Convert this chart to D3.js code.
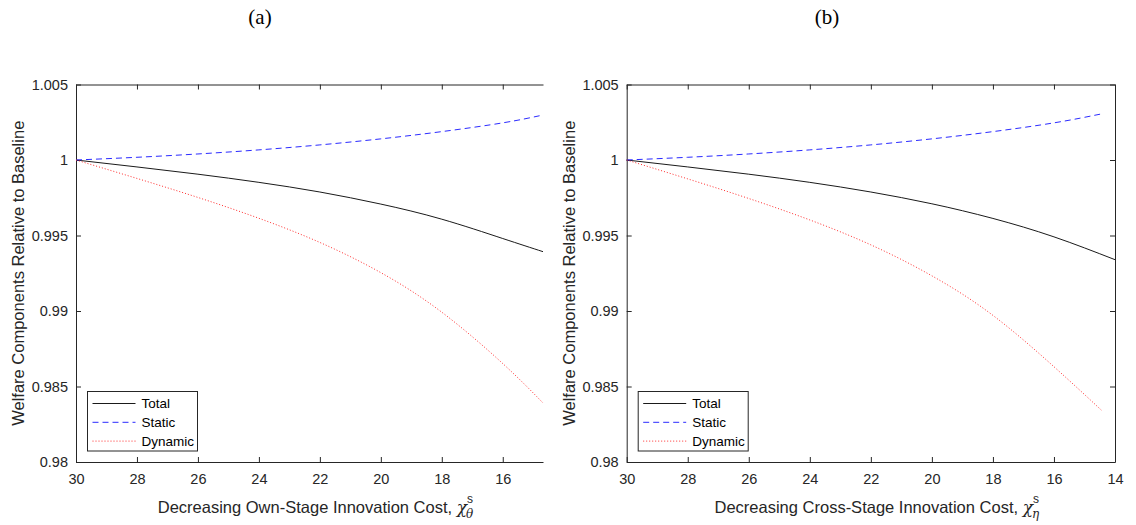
<!DOCTYPE html>
<html>
<head>
<meta charset="utf-8">
<script src="https://cdn.jsdelivr.net/npm/d3@7"></script>
<style>
  body { margin: 0; background: #fff; }
  svg { display: block; }
</style>
</head>
<body>
<div id="chart"></div>
<script>
// panel (a): own-stage innovation cost
const xA = [30, 28, 26, 24, 22, 20, 18, 16, 14.68];
const totalA   = [1, 0.99954, 0.99906, 0.99852, 0.99788, 0.99708, 0.99608, 0.9948, 0.99393];
const staticA  = [1, 1.00018, 1.0004, 1.00067, 1.001, 1.0014, 1.00188, 1.00246, 1.00298];
const dynamicA = [1, 0.99878, 0.99752, 0.99614, 0.99454, 0.99254, 0.98992, 0.98652, 0.98391];

// panel (b): cross-stage innovation cost
const xB = [30, 28, 26, 24, 22, 20, 18, 16, 14.45];
const xBTotal = [30, 28, 26, 24, 22, 20, 18, 16, 14.0];
const totalB   = [1, 0.99954, 0.99906, 0.99852, 0.99788, 0.9971, 0.99613, 0.99491, 0.9934];
const staticB  = [1, 1.00018, 1.0004, 1.00067, 1.001, 1.0014, 1.00188, 1.00246, 1.00305];
const dynamicB = [1, 0.99875, 0.99745, 0.99603, 0.99438, 0.99233, 0.98971, 0.98631, 0.98344];

const yTicks = [0.98, 0.985, 0.99, 0.995, 1, 1.005];
const yTickLabels = ["0.98", "0.985", "0.99", "0.995", "1", "1.005"];
const xTicksA = [30, 28, 26, 24, 22, 20, 18, 16];
const xTicksB = [30, 28, 26, 24, 22, 20, 18, 16, 14];
const seriesNames = ["Total", "Static", "Dynamic"];

const W = 1136, H = 525;
const axisColor = "#262626";
const sans = "'Liberation Sans', Arial, Helvetica, sans-serif";
const serif = "'DejaVu Serif', 'Liberation Serif', serif";

const svg = d3.select("#chart").append("svg")
  .attr("width", W)
  .attr("height", H);

const styles = {
  Total:   { stroke: "#1a1a1a", dash: null, width: 1 },
  Static:  { stroke: "#2b2bff", dash: "6,4", width: 1 },
  Dynamic: { stroke: "#ff2b2b", dash: "1,2", width: 1 }
};

function drawPanel(p) {
  const x = d3.scaleLinear().domain(p.xDomain).range([p.left, p.right]);
  const y = d3.scaleLinear().domain([0.98, 1.005]).range([462, 84.5]);
  const g = svg.append("g");

  // bottom axis, ticks inward
  const bottom = g.append("g")
    .attr("transform", `translate(0,${y(0.98)})`)
    .call(d3.axisBottom(x).tickValues(p.xTicks).tickSize(-5).tickSizeOuter(0).tickPadding(12).tickFormat(d3.format("d")));
  // left axis, ticks inward
  const left = g.append("g")
    .attr("transform", `translate(${p.left},0)`)
    .call(d3.axisLeft(y).tickValues(yTicks).tickSize(-5).tickSizeOuter(0).tickPadding(8)
      .tickFormat((d, i) => yTickLabels[i]));
  // top border with ticks
  const top = g.append("g")
    .attr("transform", `translate(0,${y(1.005)})`)
    .call(d3.axisTop(x).tickValues(p.xTicks).tickSize(-5).tickSizeOuter(0).tickFormat(""));
  const axes = [bottom, left, top];
  if (p.rightBorder) {
    axes.push(g.append("g")
      .attr("transform", `translate(${p.right},0)`)
      .call(d3.axisRight(y).tickValues(yTicks).tickSize(-5).tickSizeOuter(0).tickFormat("")));
  }
  axes.forEach(a => {
    a.select(".domain").attr("stroke", axisColor).attr("stroke-width", 1);
    a.selectAll(".tick line").attr("stroke", axisColor);
    a.selectAll("text").attr("fill", axisColor).style("font-family", sans).style("font-size", "14.5px");
  });

  // series
  const line = (xs) => d3.line()
    .x((d, i) => x(xs[i]))
    .y(d => y(d))
    .curve(d3.curveNatural);
  p.series.forEach(s => {
    const st = styles[s.name];
    g.append("path")
      .datum(s.values)
      .attr("fill", "none")
      .attr("stroke", st.stroke)
      .attr("stroke-width", st.width)
      .attr("stroke-dasharray", st.dash)
      .attr("d", line(s.xs));
  });

  // legend
  const lx = p.left + 11.5, ly = 391.5;
  const leg = g.append("g").attr("transform", `translate(${lx},${ly})`);
  leg.append("rect")
    .attr("width", 110).attr("height", 59.5)
    .attr("fill", "#fff").attr("stroke", axisColor).attr("stroke-width", 1);
  seriesNames.forEach((name, i) => {
    const st = styles[name];
    const yy = 12 + i * 18.8;
    leg.append("line")
      .attr("x1", 5).attr("x2", 48).attr("y1", yy).attr("y2", yy)
      .attr("stroke", st.stroke).attr("stroke-width", 1)
      .attr("stroke-dasharray", st.dash);
    leg.append("text")
      .attr("x", 54).attr("y", yy + 4.5)
      .attr("fill", "#000")
      .style("font-family", sans).style("font-size", "13.5px")
      .text(name);
  });

  // y label
  g.append("text")
    .attr("transform", `translate(${p.left - 52},${(84.5 + 462) / 2}) rotate(-90)`)
    .attr("text-anchor", "middle")
    .attr("fill", axisColor)
    .style("font-family", sans).style("font-size", "16.5px")
    .text("Welfare Components Relative to Baseline");

  // x label
  const xl = g.append("text")
    .attr("x", (p.left + p.right) / 2 + 6)
    .attr("y", 513)
    .attr("text-anchor", "middle")
    .attr("fill", axisColor)
    .style("font-family", sans).style("font-size", "16.5px");
  xl.append("tspan").text(p.xLabel + " ");
  xl.append("tspan").style("font-family", serif).style("font-style", "italic").style("font-size", "17px").text("χ");
  xl.append("tspan").attr("dy", -10).style("font-size", "12px").text("s");
  xl.append("tspan").attr("dx", -7).attr("dy", 15).style("font-family", serif).style("font-style", "italic").style("font-size", "12px").text(p.sub);

  // panel title
  svg.append("text")
    .attr("x", p.titleX).attr("y", 24)
    .attr("text-anchor", "middle")
    .attr("fill", "#000")
    .style("font-family", "'Liberation Serif', 'DejaVu Serif', serif")
    .style("font-size", "21px")
    .text(p.title);
}

drawPanel({
  left: 76, right: 543, xDomain: [30, 14.68], xTicks: xTicksA, rightBorder: false,
  xLabel: "Decreasing Own-Stage Innovation Cost,", sub: "θ",
  title: "(a)", titleX: 260,
  series: [
    { name: "Total", xs: xA, values: totalA },
    { name: "Static", xs: xA, values: staticA },
    { name: "Dynamic", xs: xA, values: dynamicA }
  ]
});

drawPanel({
  left: 626.7, right: 1115, xDomain: [30, 14], xTicks: xTicksB, rightBorder: true,
  xLabel: "Decreasing Cross-Stage Innovation Cost,", sub: "η",
  title: "(b)", titleX: 827,
  series: [
    { name: "Total", xs: xBTotal, values: totalB },
    { name: "Static", xs: xB, values: staticB },
    { name: "Dynamic", xs: xB, values: dynamicB }
  ]
});
</script>
</body>
</html>
